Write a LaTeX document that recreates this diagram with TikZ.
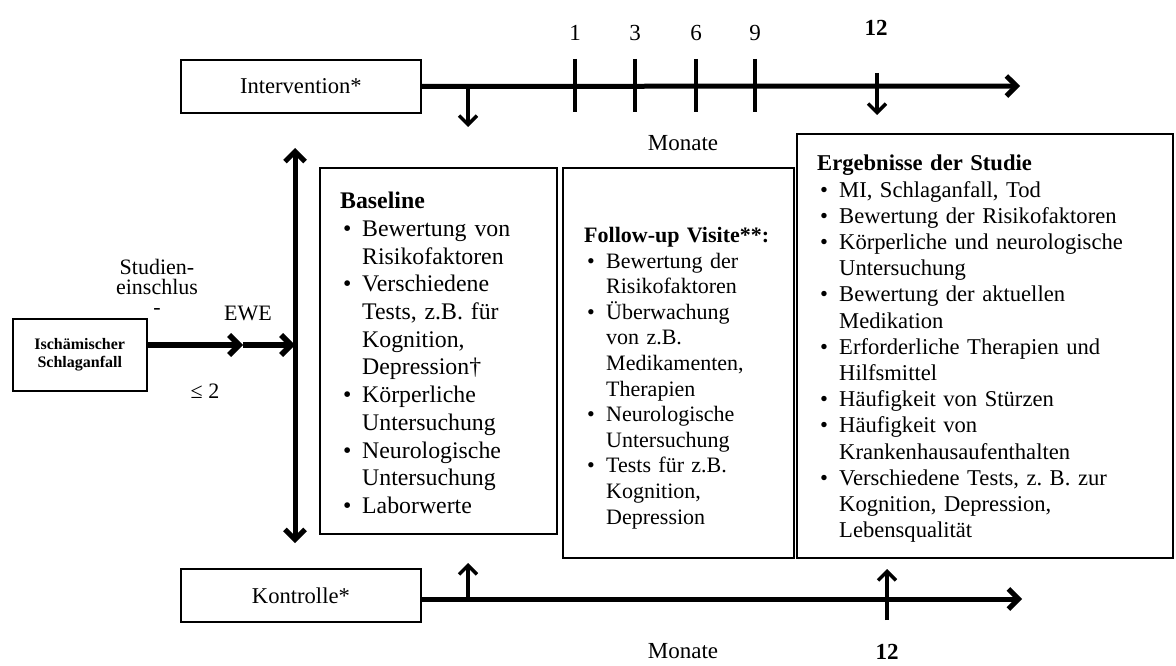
\documentclass[tikz,border=0pt]{standalone}
\usepackage{fontspec}
\setmainfont{Liberation Serif}
\usetikzlibrary{arrows.meta,positioning}
\newcommand{\punkt}{\par\hangindent=22pt\hangafter=1\noindent\makebox[22pt][l]{\hspace{3pt}\textbullet}}

\begin{document}
\begin{tikzpicture}[x=1pt,y=-1pt,
  box/.style={draw,line width=1.8pt,inner sep=0pt,anchor=north west},
  liste/.style={inner sep=0pt,text width=#1,
    execute at begin node={\raggedright\frenchspacing\parindent=0pt}},
  achse/.style={line width=5pt,-{Straight Barb[length=10pt,width=20pt]}},
  pfeil/.style={line width=3.5pt,-{Straight Barb[length=9pt,width=18pt]}},
  strich/.style={line width=4pt},
  zahl/.style={font=\fontsize{23}{26}\selectfont}]
  \path[use as bounding box,fill=white] (0,0) rectangle (1176,666);
  \node[box,minimum width=240,minimum height=53,font=\fontsize{22.6}{26}\selectfont] (int) at (180,59) {Intervention*};
  \node[box,minimum width=240,minimum height=53,font=\fontsize{22.6}{26}\selectfont] (kon) at (180,568) {Kontrolle*};
  \node[box,line width=1.5pt,minimum width=134,minimum height=72,align=center,
    font=\fontsize{16}{18.5}\selectfont\bfseries] (isch) at (12,318) {Ischämischer\\Schlaganfall};
  \coordinate (tend) at (1020,86);
  \coordinate (kend) at (1022,599);
  \draw[achse] (int.east) -- (tend);
  \draw[achse] (kon.east |- kend) -- (kend);
  \foreach \m/\x in {1/575,3/635,6/696,9/755}{
    \draw[strich] (\x,59) -- (\x,112);
    \node[zahl] (m\m) at (\x,33) {\m};
  }
  \node[zahl,font=\fontsize{23}{26}\selectfont\bfseries] (m12) at (876,28) {12};
  \node[zahl,font=\fontsize{23}{26}\selectfont\bfseries] (k12) at (887,652) {12};
  \node[zahl] (mon1) at (683,143) {Monate};
  \node[zahl] (mon2) at (683,651) {Monate};
  \draw[pfeil] (468,86) -- (468,127);
  \draw[pfeil] (877,73) -- (877,115);
  \draw[pfeil] (468,599) -- (468,563);
  \draw[pfeil] (887,620) -- (887,569);
  \coordinate (vtop) at (295,148);
  \coordinate (vbot) at (295,543);
  \coordinate (ewe) at (295,345);
  \coordinate (mitte) at (243,345);
  \draw[line width=5pt,{Straight Barb[length=10pt,width=20pt]}-{Straight Barb[length=10pt,width=20pt]}] (vbot) -- (vtop);
  \draw[achse,line width=5.5pt] (isch.east |- ewe) -- (mitte);
  \draw[achse,line width=5.5pt] (mitte) -- (ewe);
  \node[align=center,font=\fontsize{22}{20}\selectfont] (ein) at (157,287) {Studien-\\einschlus\\-};
  \node[font=\fontsize{22}{26}\selectfont] (ewetext) at (248,313) {EWE};
  \node[font=\fontsize{22}{26}\selectfont] (zwei) at (205,391) {≤ 2};
  \node[box,minimum width=237,minimum height=366] (base) at (319,167) {};
  \node[box,minimum width=231,minimum height=390] (fup) at (562,167) {};
  \node[box,minimum width=376,minimum height=424] (erg) at (796,133) {};
  \node[liste=205pt,below right=25pt and 21pt of base.north west,font=\fontsize{23.8}{27.7}\selectfont] (basetext)
    {\textbf{Baseline}
     \punkt Bewertung von\newline Risikofaktoren
     \punkt Verschiedene\newline Tests, z.B. für\newline Kognition,\newline Depression†
     \punkt Körperliche\newline Untersuchung
     \punkt Neurologische\newline Untersuchung
     \punkt Laborwerte\par};
  \node[liste=200pt,below right=60pt and 22pt of fup.north west,font=\fontsize{22}{25.6}\selectfont] (fuptext)
    {\textbf{Follow-up Visite**:}
     \punkt Bewertung der\newline Risikofaktoren
     \punkt Überwachung\newline von z.B.\newline Medikamenten,\newline Therapien
     \punkt Neurologische\newline Untersuchung
     \punkt Tests für z.B.\newline Kognition,\newline Depression\par};
  \node[liste=335pt,below right=22pt and 21pt of erg.north west,font=\fontsize{22.6}{26.2}\selectfont] (ergtext)
    {\textbf{Ergebnisse der Studie}
     \punkt MI, Schlaganfall, Tod
     \punkt Bewertung der Risikofaktoren
     \punkt Körperliche und neurologische\newline Untersuchung
     \punkt Bewertung der aktuellen\newline Medikation
     \punkt Erforderliche Therapien und\newline Hilfsmittel
     \punkt Häufigkeit von Stürzen
     \punkt Häufigkeit von\newline Krankenhausaufenthalten
     \punkt Verschiedene Tests, z. B. zur\newline Kognition, Depression,\newline Lebensqualität\par};
\end{tikzpicture}
\end{document}
